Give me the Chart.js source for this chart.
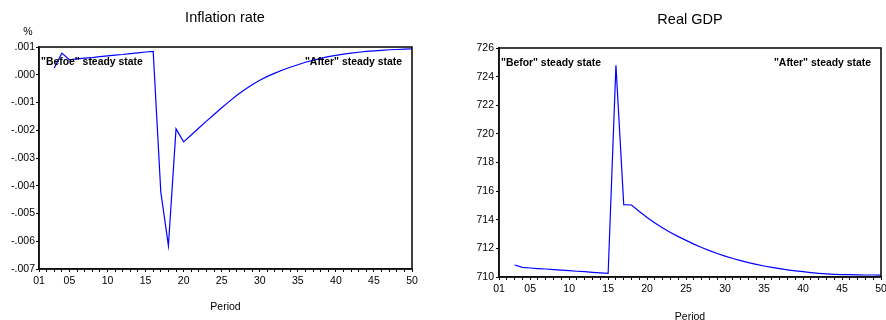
<!DOCTYPE html>
<html>
<head>
<meta charset="utf-8">
<script src="https://cdn.jsdelivr.net/npm/chart.js@4"></script>
<style>
  html, body { margin: 0; padding: 0; background: #fff; overflow: hidden; width: 886px; height: 320px; }
  #c1 { position: absolute; left: 0; top: 0; }
  #c2 { position: absolute; left: 443px; top: 0; }
</style>
</head>
<body>
<canvas id="c1" width="443" height="320"></canvas>
<canvas id="c2" width="455" height="330"></canvas>
<script>
const periods = [1,2,3,4,5,6,7,8,9,10,11,12,13,14,15,16,17,18,19,20,21,22,23,24,25,26,27,28,29,30,31,32,33,34,35,36,37,38,39,40,41,42,43,44,45,46,47,48,49,50];

const inflation = [null,null,0.00024,0.00078,0.00054,0.00057,0.00060,0.00062,0.00065,0.00068,
  0.00071,0.00073,0.00076,0.00079,0.00082,0.00084,-0.00422,-0.00616,-0.00195,-0.00242,
  -0.00217,-0.00192,-0.00167,-0.00143,-0.00119,-0.00096,-0.00074,-0.00054,-0.00036,-0.00020,
  -0.00006,0.00006,0.00017,0.00027,0.00036,0.00045,0.00052,0.00059,0.00065,0.00070,
  0.00074,0.00078,0.00081,0.00084,0.00086,0.00088,0.00090,0.00091,0.00092,0.00093];

const realGDP = [null,null,710.84,710.67,710.63,710.59,710.56,710.52,710.48,710.44,
  710.40,710.37,710.33,710.29,710.25,724.8,715.06,715.03,714.58,714.16,
  713.78,713.43,713.11,712.82,712.56,712.30,712.06,711.84,711.64,711.46,
  711.29,711.14,711.00,710.88,710.77,710.67,710.58,710.50,710.43,710.37,
  710.31,710.26,710.22,710.19,710.17,710.16,710.15,710.14,710.14,710.13];

const xTickValues = [1,5,10,15,20,25,30,35,40,45,50];
const xTickLabels = ['01','05','10','15','20','25','30','35','40','45','50'];

const inflTickValues = [0.001,0,-0.001,-0.002,-0.003,-0.004,-0.005,-0.006,-0.007];
const inflTickLabels = ['.001','.000','-.001','-.002','-.003','-.004','-.005','-.006','-.007'];

const gdpTickValues = [726,724,722,720,718,716,714,712,710];
const gdpTickLabels = ['726','724','722','720','718','716','714','712','710'];

const FONT = "'Liberation Sans', Arial, Helvetica, sans-serif";

const framePlugin = {
  id: 'frame',
  afterDraw(chart, args, opts) {
    const { ctx, chartArea: a } = chart;
    ctx.save();
    ctx.strokeStyle = '#111';
    ctx.lineWidth = 1.6;
    ctx.strokeRect(a.left, a.top, a.right - a.left, a.bottom - a.top);
    ctx.fillStyle = '#000';
    ctx.textBaseline = 'middle';
    ctx.font = "bold 10.4px " + FONT;
    (opts.notes || []).forEach(n => {
      ctx.textAlign = n.align;
      const x = n.align === 'left' ? a.left + n.dx : a.right - n.dx;
      ctx.fillText(n.text, x, a.top + n.dy);
    });
    if (opts.unit) {
      ctx.font = "10.5px " + FONT;
      ctx.textAlign = 'center';
      ctx.fillText(opts.unit, a.left - 11, a.top - 15);
    }
    if (opts.title) {
      ctx.font = "14.5px " + FONT;
      ctx.textAlign = 'center';
      ctx.fillText(opts.title.text, opts.title.x, opts.title.y);
    }
    ctx.restore();
  }
};

function makeChart(id, values, yVals, yLabels, yMin, yMax, cfg) {
  const pts = periods.map((p, i) => ({ x: p, y: values[i] }));
  return new Chart(document.getElementById(id), {
    type: 'line',
    data: { datasets: [{ data: pts, borderColor: '#0000ff', borderWidth: 1.2, pointRadius: 0, tension: 0, spanGaps: false, fill: false }] },
    plugins: [framePlugin],
    options: {
      responsive: false,
      animation: false,
      layout: { padding: { left: 0, right: cfg.padRight, top: cfg.padTop, bottom: 0 } },
      plugins: {
        legend: { display: false },
        tooltip: { enabled: false },
        title: { display: false },
        frame: { notes: cfg.notes, unit: cfg.unit, title: cfg.title }
      },
      scales: {
        x: {
          type: 'linear', min: 1, max: 50,
          afterBuildTicks: s => { s.ticks = periods.map(v => ({ value: v })); },
          afterFit: s => { s.height = cfg.xHeight; },
          grid: { drawOnChartArea: false, tickLength: 3, color: '#000', tickColor: '#000', tickWidth: 1 },
          border: { color: '#111', width: 1.6 },
          ticks: {
            autoSkip: false, maxRotation: 0, padding: 3, color: '#000',
            font: { family: FONT, size: 10.5 },
            callback: v => { const k = xTickValues.indexOf(v); return k >= 0 ? xTickLabels[k] : ''; }
          },
          title: { display: true, text: 'Period', color: '#000', font: { family: FONT, size: 10.5 }, padding: { top: 0, bottom: 7 } }
        },
        y: {
          min: yMin, max: yMax,
          afterBuildTicks: s => { s.ticks = yVals.map(v => ({ value: v })); },
          afterFit: s => { s.width = cfg.yWidth; },
          grid: { drawOnChartArea: false, tickLength: 3, color: '#000', tickColor: '#000', tickWidth: 1 },
          border: { color: '#111', width: 1.6 },
          ticks: {
            autoSkip: false, padding: cfg.yPad, color: '#000',
            font: { family: FONT, size: 10.5 },
            callback: v => { const k = yVals.findIndex(t => Math.abs(t - v) < 1e-9); return k >= 0 ? yLabels[k] : ''; }
          }
        }
      }
    }
  });
}

makeChart('c1', inflation, inflTickValues, inflTickLabels, -0.007, 0.001, {
  padRight: 31, padTop: 47, xHeight: 51, yWidth: 39, yPad: 1,
  title: { text: 'Inflation rate', x: 225, y: 18 },
  unit: '%',
  notes: [
    { text: '"Befoe" steady state', align: 'left', dx: 2, dy: 15 },
    { text: '"After" steady state', align: 'right', dx: 10, dy: 15 }
  ]
});

makeChart('c2', realGDP, gdpTickValues, gdpTickLabels, 710, 726, {
  padRight: 17, padTop: 48, xHeight: 53, yWidth: 56, yPad: 2,
  title: { text: 'Real GDP', x: 247, y: 20 },
  unit: null,
  notes: [
    { text: '"Befor" steady state', align: 'left', dx: 2, dy: 15 },
    { text: '"After" steady state', align: 'right', dx: 10, dy: 15 }
  ]
});
</script>
</body>
</html>
